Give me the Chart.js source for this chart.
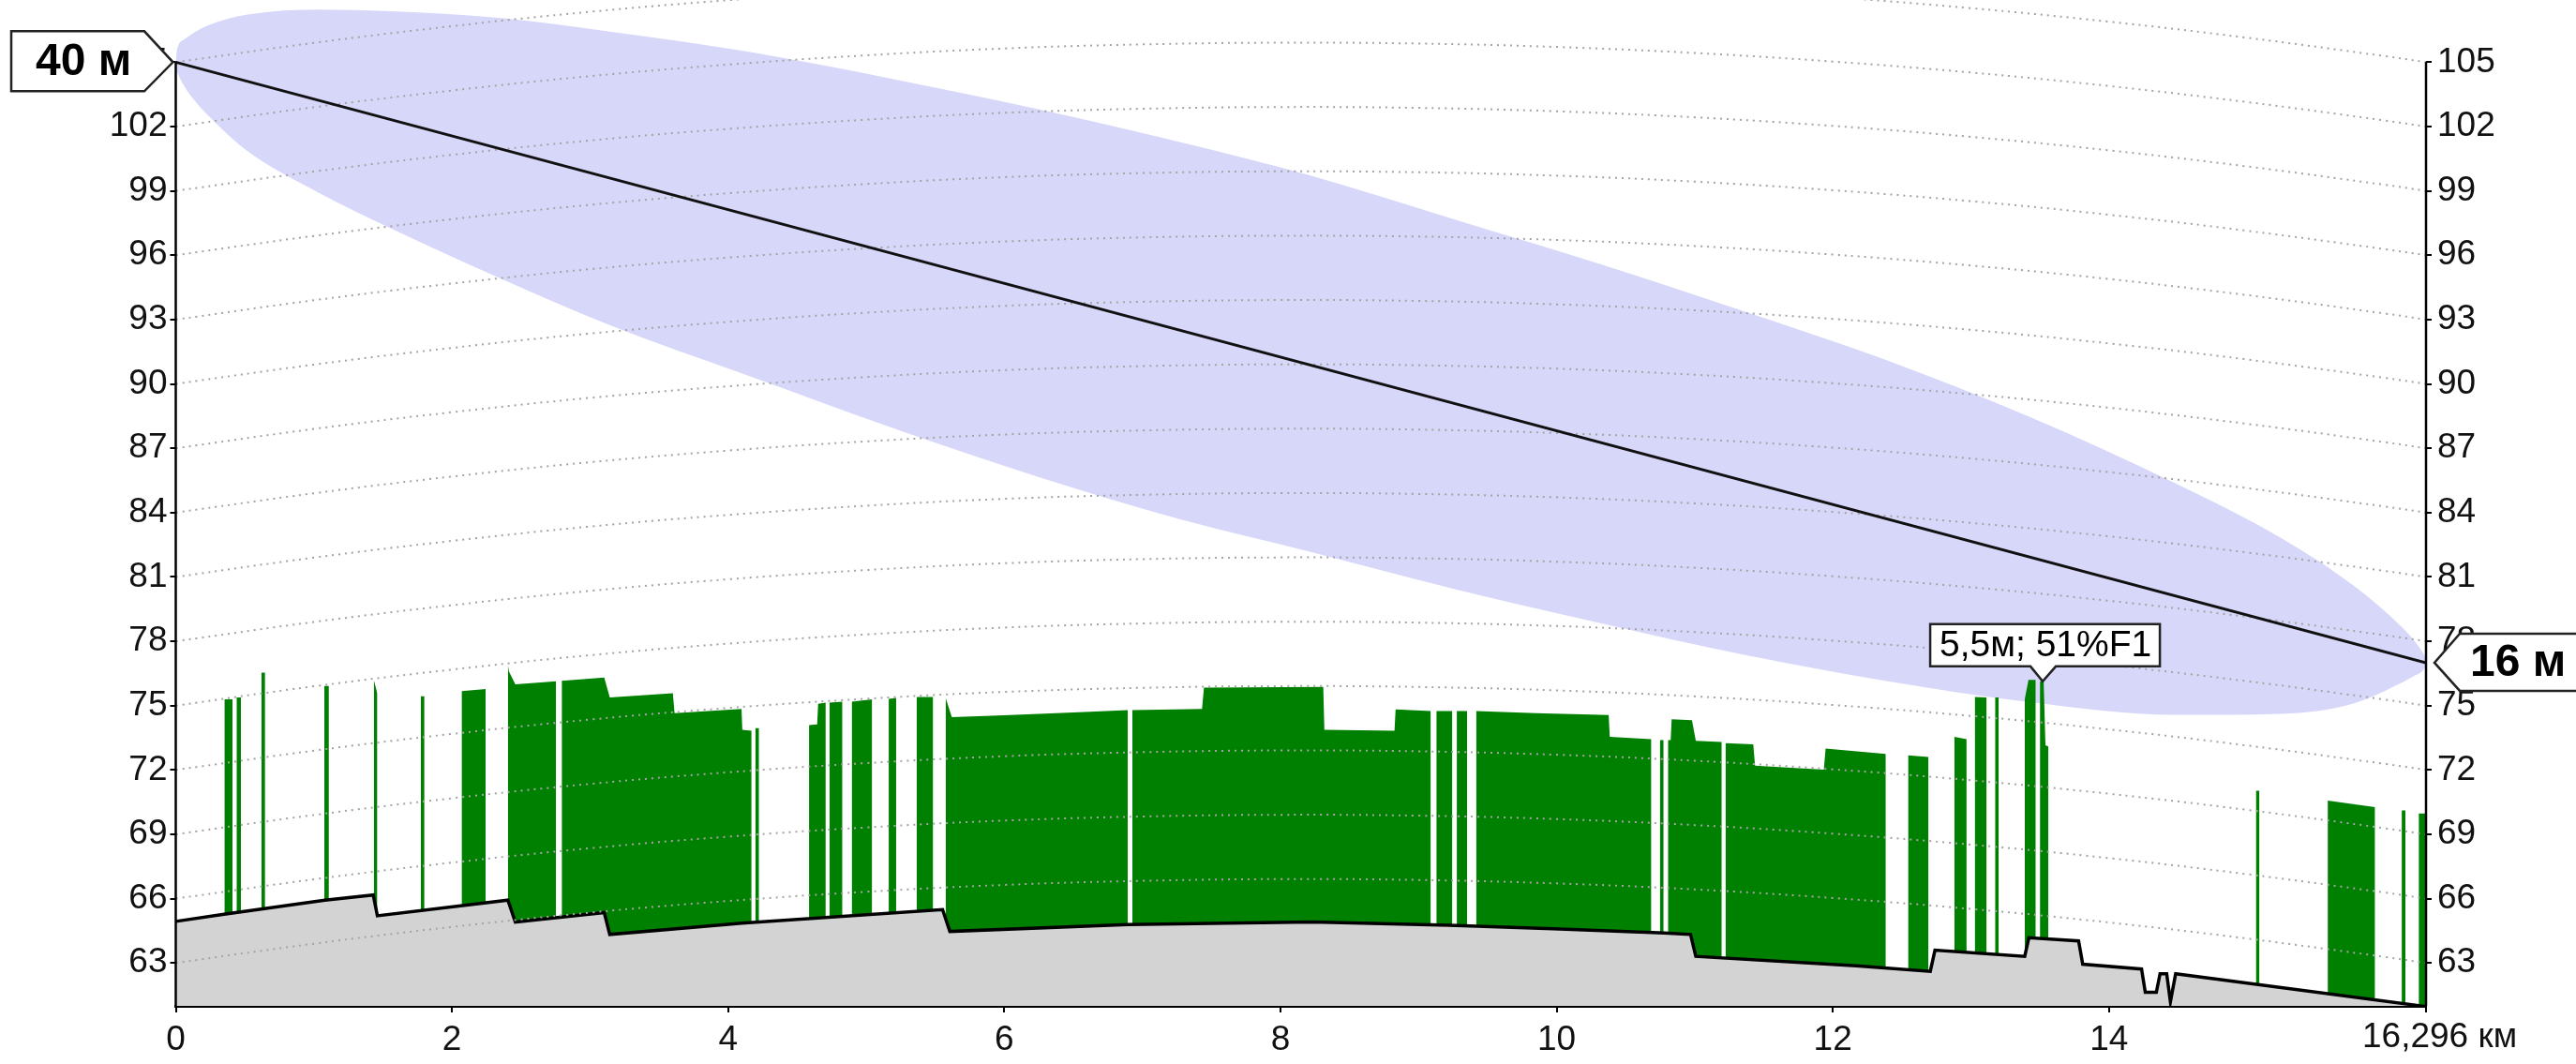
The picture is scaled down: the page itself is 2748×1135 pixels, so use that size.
<!DOCTYPE html>
<html>
<head>
<meta charset="utf-8">
<title>Профиль трассы</title>
<script src="https://cdn.jsdelivr.net/npm/chart.js@4/dist/chart.umd.min.js"></script>
<style>
  html, body { margin: 0; padding: 0; background: #fff; }
  #wrap { width: 2748px; height: 1135px; }
</style>
</head>
<body>
<div id="wrap"><canvas id="profile" width="2748" height="1135"></canvas></div>
<script>
// --- axes
const distTicks = [0, 2, 4, 6, 8, 10, 12, 14, 16.296];
const heightTicks = [63, 66, 69, 72, 75, 78, 81, 84, 87, 90, 93, 96, 99, 102, 105];
const xMax = 16.296;
const yMin = 61;
const yMax = 107.9;

// --- terrain profile (km, m)
const terrainKm = [0, 0.35, 1.08, 1.43, 1.46, 2.405, 2.459, 3.103, 3.143, 4.10, 5.553, 5.606, 6.895, 8.232,
  9.223, 9.976, 10.78, 10.97, 11.008, 12.169, 12.706, 12.74, 13.39, 13.42, 13.78, 13.81, 14.236, 14.263,
  14.343, 14.37, 14.418, 14.445, 14.483, 16.296];
const terrainM = [64.94, 65.27, 65.93, 66.17, 65.20, 65.93, 64.91, 65.35, 64.33, 64.86, 65.49, 64.47, 64.79, 64.91,
  64.76, 64.59, 64.40, 64.33, 63.31, 62.87, 62.61, 63.60, 63.31, 64.18, 64.03, 62.94, 62.72, 61.63,
  61.63, 62.50, 62.50, 61.19, 62.50, 60.97];

// --- vegetation / buildings top (null = gap)
const vegKm = [
  0.352, 0.411, null, 0.440, 0.472, null, 0.620, 0.647, null, 1.076, 1.109, null,
  1.434, 1.442, 1.460, null, 1.775, 1.801, null, 2.070, 2.244, null,
  2.405, 2.412, 2.459, 2.754, null,
  2.795, 3.103, 3.143, 3.600, 3.612, 4.097, 4.103, 4.170, null,
  4.197, 4.224, null, 4.586, 4.645, 4.652, 4.707, null, 4.734, 4.828, null,
  4.895, 5.043, null, 5.163, 5.217, null, 5.365, 5.485, null,
  5.575, 5.620, 6.000, 6.500, 6.895, null,
  6.927, 7.432, 7.446, 8.310, 8.318, 8.826, 8.834, 9.089, null,
  9.129, 9.245, null, 9.277, 9.352, null,
  9.417, 9.850, 10.377, 10.385, 10.686, null, 10.748, 10.775, null,
  10.806, 10.826, 10.833, 10.980, 11.008, 11.196, null,
  11.223, 11.424, 11.437, 11.935, 11.948, 12.384, null,
  12.545, 12.693, null, 12.880, 12.969, null, 13.028, 13.114, null, 13.175, 13.202, null,
  13.390, 13.417, 13.470, null, 13.500, 13.527, 13.540, 13.561, null,
  15.064, 15.090, null, 15.584, 15.927, null, 16.120, 16.147, null, 16.243, 16.296
];
const vegM = [
  75.29, 75.29, null, 75.38, 75.38, null, 76.54, 76.54, null, 75.92, 75.92, null,
  76.20, 76.00, 75.55, null, 75.43, 75.43, null, 75.67, 75.77, null,
  76.94, 76.60, 75.99, 76.13, null,
  76.16, 76.31, 75.38, 75.58, 74.65, 74.85, 73.87, 73.83, null,
  73.95, 73.95, null, 74.09, 74.12, 75.08, 75.14, null, 75.14, 75.18, null,
  75.18, 75.29, null, 75.32, 75.36, null, 75.40, 75.40, null,
  75.37, 74.46, 74.55, 74.68, 74.79, null,
  74.79, 74.85, 75.84, 75.87, 73.87, 73.83, 74.82, 74.75, null,
  74.75, 74.75, null, 74.75, 74.75, null,
  74.75, 74.65, 74.56, 73.54, 73.44, null, 73.39, 73.39, null,
  73.39, 73.39, 74.36, 74.32, 73.36, 73.30, null,
  73.25, 73.19, 72.20, 72.02, 73.00, 72.75, null,
  72.68, 72.60, null, 73.54, 73.44, null, 75.40, 75.38, null, 75.38, 75.38, null,
  75.29, 76.20, 76.20, null, 76.13, 76.13, 73.15, 73.10, null,
  71.03, 71.03, null, 70.57, 70.27, null, 70.11, 70.11, null, 69.97, 69.97
];

// --- line of sight
const losKm = [0, 16.296];
const losM = [105, 77];

// --- fresnel zone outline
const fresnelKm = [0, 0.005, 0.02, 0.06, 0.15, 0.3, 0.52, 1.04, 1.56, 2.34, 3.12, 4.16, 5.19, 6.23, 7.27, 8.2,
  9.27, 10.31, 11.35, 12.39, 13.43, 14.47, 15.25, 15.77, 16.13, 16.22, 16.27, 16.29, 16.296];
const fresnelTop = [105, 105.4, 105.8, 106.05, 106.45, 106.87, 107.22, 107.45, 107.38, 107.07, 106.45, 105.47, 104.22, 102.83, 101.28, 99.75,
  97.65, 95.6, 93.4, 91.1, 88.45, 85.4, 82.8, 80.6, 78.6, 77.95, 77.5, 77.22, 77.0];
const fresnelBottom = [105, 104.7, 104.4, 103.9, 103.1, 102.1, 100.85, 98.9, 97.25, 94.95, 92.8, 90.35, 87.95, 85.7, 83.7, 82.2,
  80.42, 78.86, 77.38, 76.15, 75.16, 74.57, 74.62, 75.1, 76.1, 76.42, 76.62, 76.82, 77.0];

// --- earth bulge of the level lines (km, m)
const bulgeKm = [0, 1, 2, 3, 4, 5, 6, 7, 8, 9, 10, 11, 12, 13, 14, 15, 16, 16.296];
const bulgeM = [0, 0.90, 1.68, 2.35, 2.89, 3.32, 3.64, 3.83, 3.91, 3.87, 3.71, 3.43, 3.03, 2.52, 1.89, 1.14, 0.28, 0];

// --- labels
const leftAntenna = '40 м';
const rightAntenna = '16 м';
const clearanceText = '5,5м; 51%F1';
const clearanceKm = 13.52;
const clearanceM = 76.13;
const distUnitLabel = '16,296 км';

const FONT = "'Liberation Sans', Arial, sans-serif";
const TICK_SIZE = 37;

function pts(xs, ys) {
  return xs.map((x, i) => ({ x: x === null ? xs[i - 1] : x, y: ys[i] }));
}

// --- datasets
const gridSets = heightTicks.map(level => ({
  data: bulgeKm.map((k, i) => ({ x: k, y: level + bulgeM[i] })),
  borderColor: '#a4a4a4',
  borderWidth: 2,
  borderDash: [2, 5],
  tension: 0.4,
  pointRadius: 0,
  fill: false,
  order: 1
}));

const datasets = [
  { data: pts(losKm, losM), borderColor: '#111', borderWidth: 3, pointRadius: 0, fill: false, order: 0 },
  ...gridSets,
  { data: pts(terrainKm, terrainM), borderColor: '#000', borderWidth: 3.5, backgroundColor: '#d3d3d3',
    pointRadius: 0, fill: 'start', order: 2 },
  { data: pts(vegKm, vegM), borderColor: '#008000', borderWidth: 0, backgroundColor: '#008000',
    pointRadius: 0, fill: 'start', spanGaps: false, order: 3 },
  { data: pts(fresnelKm, fresnelTop), borderWidth: 0, backgroundColor: 'rgb(215,215,250)',
    pointRadius: 0, fill: '+1', cubicInterpolationMode: 'monotone', order: 4 },
  { data: pts(fresnelKm, fresnelBottom), borderWidth: 0, pointRadius: 0, fill: false,
    cubicInterpolationMode: 'monotone', order: 4 }
];

// --- callouts and axis lines
function drawTag(ctx, pathPts, text, tx, ty, align, bold) {
  ctx.beginPath();
  pathPts.forEach((p, i) => (i ? ctx.lineTo(p[0], p[1]) : ctx.moveTo(p[0], p[1])));
  ctx.closePath();
  ctx.fillStyle = '#fff';
  ctx.fill();
  ctx.lineWidth = 2.5;
  ctx.strokeStyle = '#222';
  ctx.stroke();
  ctx.fillStyle = '#000';
  ctx.font = (bold ? 'bold 48px ' : '39px ') + FONT;
  ctx.textAlign = align;
  ctx.textBaseline = 'middle';
  ctx.fillText(text, tx, ty);
}

const overlay = {
  id: 'overlay',
  afterDraw(chart) {
    const { ctx } = chart;
    const x = chart.scales.x, y = chart.scales.y;
    ctx.save();

    // vertical axis lines from 105 down
    const yTop = y.getPixelForValue(heightTicks[heightTicks.length - 1]);
    const yBot = y.getPixelForValue(yMin);
    ctx.strokeStyle = '#000';
    ctx.lineWidth = 2.5;
    [x.left, x.right].forEach(px => {
      ctx.beginPath(); ctx.moveTo(px, yTop); ctx.lineTo(px, yBot); ctx.stroke();
    });

    // last distance label with unit
    ctx.fillStyle = '#111';
    ctx.font = TICK_SIZE + 'px ' + FONT;
    ctx.textAlign = 'left';
    ctx.textBaseline = 'top';
    ctx.fillText(distUnitLabel, x.getPixelForValue(xMax) - 68, x.top + 15);

    // antenna tags
    const lx = x.getPixelForValue(losKm[0]), ly = y.getPixelForValue(losM[0]);
    drawTag(ctx, [[12, ly - 33], [154, ly - 33], [lx - 3, ly], [154, ly + 31], [12, ly + 31]],
      leftAntenna, 38, ly, 'left', true);
    const rx = x.getPixelForValue(losKm[1]), ry = y.getPixelForValue(losM[1]);
    drawTag(ctx, [[2760, ry - 31], [2624, ry - 31], [rx + 9, ry], [2624, ry + 30], [2760, ry + 30]],
      rightAntenna, 2635, ry + 1, 'left', true);

    // clearance callout
    const cx = x.getPixelForValue(clearanceKm), cy = y.getPixelForValue(clearanceM);
    const bTop = cy - 61, bBot = cy - 16;
    drawTag(ctx, [[cx - 120, bTop], [cx + 125, bTop], [cx + 125, bBot], [cx + 14, bBot], [cx, cy],
      [cx - 13, bBot], [cx - 120, bBot]], clearanceText, cx + 3, (bTop + bBot) / 2 + 1, 'center', false);

    ctx.restore();
  }
};

const tickFont = { family: FONT, size: TICK_SIZE };

new Chart(document.getElementById('profile'), {
  type: 'line',
  data: { datasets },
  options: {
    responsive: false,
    animation: false,
    events: [],
    layout: { padding: 0 },
    elements: { line: { borderCapStyle: 'butt' } },
    plugins: { legend: { display: false }, tooltip: { enabled: false } },
    scales: {
      x: {
        type: 'linear', min: 0, max: xMax,
        afterBuildTicks: s => { s.ticks = distTicks.map(v => ({ value: v })); },
        afterFit: s => { s.height = 62; s.paddingLeft = 0; s.paddingRight = 0; },
        ticks: { callback: v => (v === xMax ? '' : String(v)), font: tickFont, color: '#111',
          padding: 8, maxRotation: 0, autoSkip: false },
        grid: { drawOnChartArea: false, drawTicks: true, tickLength: 7, color: '#000', lineWidth: 2 },
        border: { display: true, color: '#000', width: 3 }
      },
      y: {
        type: 'linear', position: 'left', min: yMin, max: yMax,
        afterBuildTicks: s => { s.ticks = heightTicks.map(v => ({ value: v })); },
        afterFit: s => { s.width = 187.5; s.paddingTop = 0; s.paddingBottom = 0; },
        ticks: { font: tickFont, color: '#111', padding: 3, autoSkip: false },
        grid: { drawOnChartArea: false, drawTicks: true, tickLength: 6, color: '#000', lineWidth: 2 },
        border: { display: false }
      },
      y2: {
        type: 'linear', position: 'right', min: yMin, max: yMax,
        afterBuildTicks: s => { s.ticks = heightTicks.map(v => ({ value: v })); },
        afterFit: s => { s.width = 160; s.paddingTop = 0; s.paddingBottom = 0; },
        ticks: { font: tickFont, color: '#111', padding: 6, autoSkip: false },
        grid: { drawOnChartArea: false, drawTicks: true, tickLength: 6, color: '#000', lineWidth: 2 },
        border: { display: false }
      }
    }
  },
  plugins: [overlay]
});
</script>
</body>
</html>
